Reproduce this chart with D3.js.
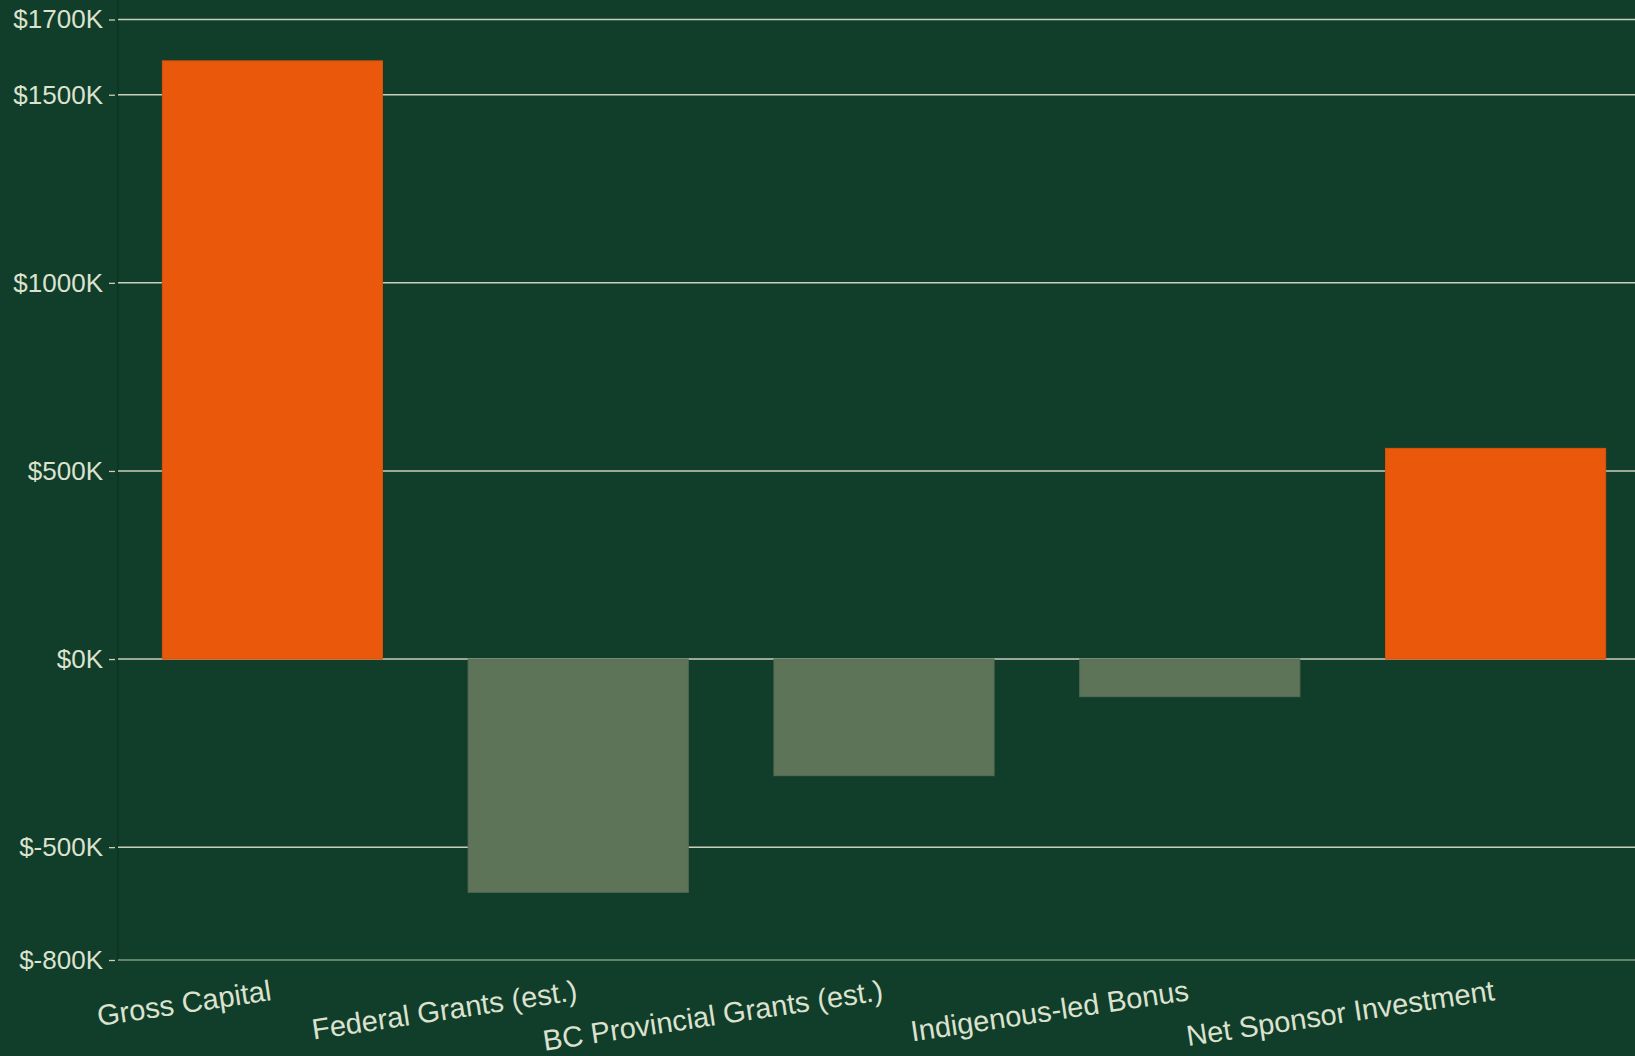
<!DOCTYPE html>
<html>
<head>
<meta charset="utf-8">
<script src="https://cdn.jsdelivr.net/npm/d3@7"></script>
<style>
	html, body { margin: 0; padding: 0; background: #103e2a; overflow: hidden; }
	svg { display: block; font-family: "Liberation Sans", Arial, sans-serif; }
	.grid line { stroke: #c9cfbb; stroke-width: 1.5; }
	.grid .bottom { stroke: #7f9d80; }
	.axis path { display: none; }
	.axis line { stroke: #c9cfbb; stroke-width: 1.3; }
	.axis text { fill: #dde2cf; }
</style>
</head>
<body>
<svg width="1635" height="1056"></svg>
<script>
// waterfall-ish breakdown, thousands of dollars
var categories = ["Gross Capital", "Federal Grants (est.)", "BC Provincial Grants (est.)",
                  "Indigenous-led Bonus", "Net Sponsor Investment"]
var values = [1590, -620, -310, -100, 560]
var yTicks = [-800, -500, 0, 500, 1000, 1500, 1700]
var yDomain = [-800, 1700]

var svg = d3.select("svg"),
    width = 1635,
    plotLeft = 118,
    plotRight = 1650,
    plotTop = 19.5,
    plotBottom = 960

var x = d3.scaleBand()
          .domain(categories)
          .range([plotLeft, plotRight])
          .paddingInner(0.28)
          .paddingOuter(0.145)

var y = d3.scaleLinear()
          .domain(yDomain)
          .range([plotBottom, plotTop])

// faint vertical domain line
svg.append("line")
   .attr("x1", plotLeft).attr("x2", plotLeft)
   .attr("y1", 0).attr("y2", plotBottom)
   .attr("stroke", "#0b3321")
   .attr("stroke-width", 1.5)

// horizontal gridlines
svg.append("g")
   .attr("class", "grid")
   .selectAll("line")
   .data(yTicks)
   .enter()
   .append("line")
   .attr("class", function(d) { return d === yDomain[0] ? "bottom" : null })
   .attr("x1", plotLeft)
   .attr("x2", width)
   .attr("y1", function(d) { return y(d) })
   .attr("y2", function(d) { return y(d) })

// bars
svg.append("g")
   .selectAll("rect")
   .data(values)
   .enter()
   .append("rect")
   .attr("x", function(d, i) { return x(categories[i]) })
   .attr("width", x.bandwidth())
   .attr("y", function(d) { return y(Math.max(0, d)) })
   .attr("height", function(d) { return Math.abs(y(d) - y(0)) })
   .attr("fill", function(d) { return d >= 0 ? "#e9580b" : "#5d7458" })
   .attr("stroke", function(d) { return d >= 0 ? "#d9520c" : "#566c53" })
   .attr("stroke-width", 1)

// y axis
svg.append("g")
   .attr("class", "axis axis--y")
   .attr("transform", "translate(" + (plotLeft - 3) + ",0)")
   .call(d3.axisLeft(y)
           .tickValues(yTicks)
           .tickSize(6)
           .tickPadding(6)
           .tickFormat(function(d) { return "$" + d + "K" }))
   .selectAll("text")
   .style("font-size", "26px")

// x axis, rotated labels ending at band centre
var xAxis = svg.append("g")
   .attr("class", "axis axis--x")
   .attr("transform", "translate(0," + plotBottom + ")")
   .call(d3.axisBottom(x).tickSize(0))

xAxis.selectAll("text")
   .style("font-size", "29px")
   .attr("text-anchor", "end")
   .attr("x", 0)
   .attr("y", 0)
   .attr("dy", 0)
   .attr("transform", "translate(0,40) rotate(-8.5)")
</script>
</body>
</html>
